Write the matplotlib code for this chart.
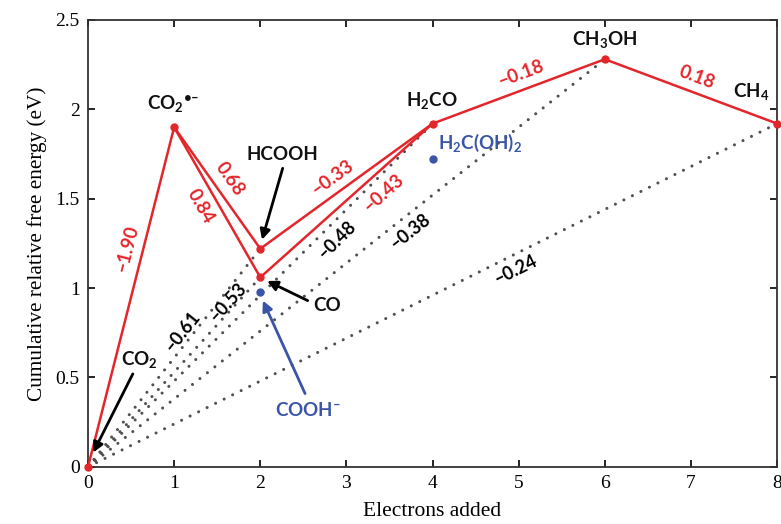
import matplotlib
matplotlib.use("Agg")
import matplotlib.pyplot as plt
import numpy as np

plt.rcParams['mathtext.fontset'] = 'custom'
plt.rcParams['mathtext.rm'] = 'Lato:bold'
plt.rcParams['mathtext.bf'] = 'Lato:bold'
plt.rcParams['mathtext.it'] = 'Lato:bold'

# Интермедиаты восстановления CO2
species = [r'$\mathrm{CO_2}$', r'$\mathrm{CO_2{}^{•–}}$', 'HCOOH', 'CO',
           r'$\mathrm{H_2CO}$', r'$\mathrm{CH_3OH}$', r'$\mathrm{CH_4}$']
electrons = [0, 1, 2, 2, 4, 6, 8]
energy = [0.0, 1.90, 1.22, 1.06, 1.92, 2.28, 1.92]

# Побочные частицы (синие)
side_species = [r'$\mathrm{COOH^{–}}$', r'$\mathrm{H_2C(OH)_2}$']
side_electrons = [2, 4]
side_energy = [0.98, 1.72]

# Ступени (красные линии) и их потенциалы
steps = [(0, 1), (1, 2), (1, 3), (2, 4), (3, 4), (4, 5), (5, 6)]
step_labels = ['–1.90', '0.68', '0.84', '–0.33', '–0.43', '–0.18', '0.18']

# Суммарные потенциалы (пунктир от начала координат)
overall_to = [2, 3, 4, 5, 6]
overall_labels = ['–0.61', '–0.53', '–0.48', '–0.38', '–0.24']

red = '#e3262b'
blue = '#3a55a8'

fig = plt.figure(figsize=(7.81, 5.24), dpi=100)
ax = fig.add_axes([0.1127, 0.109, 0.8823, 0.853])
ax.set_xlim(0, 8)
ax.set_ylim(0, 2.5)


def angle(x0, y0, x1, y1):
    a = np.degrees(np.arctan2(y1 - y0, x1 - x0))
    return ax.transData.transform_angles(np.array([a]), np.array([[x0, y0]]))[0]


# пунктир
for i in overall_to:
    ax.plot([electrons[0], electrons[i]], [energy[0], energy[i]],
            color='#505050', lw=2.2, ls=(0, (0.01, 3.1)), dash_capstyle='round', zorder=2)

# красные ступени
for a, b in steps:
    ax.plot([electrons[a], electrons[b]], [energy[a], energy[b]], color=red, lw=1.8, zorder=3)
ax.plot(electrons, energy, 'o', color=red, ms=5, zorder=4, clip_on=False)
ax.plot(side_electrons, side_energy, 'o', color=blue, ms=5, zorder=4)

# подписи ступеней
step_pos = [(0.45, 1.22), (1.65, 1.61), (1.30, 1.46), (2.84, 1.62),
            (3.43, 1.53), (5.03, 2.20), (7.07, 2.18)]
for (a, b), lab, (tx, ty) in zip(steps, step_labels, step_pos):
    rot = angle(electrons[a], energy[a], electrons[b], energy[b])
    ax.text(tx, ty, lab, color=red, fontsize=13.5, fontweight='bold', family='Lato',
            rotation=rot, rotation_mode='anchor', ha='center', va='center')

overall_pos = [(1.09, 0.76), (1.62, 0.92), (2.89, 1.27), (3.74, 1.32), (4.96, 1.10)]
for i, lab, (tx, ty) in zip(overall_to, overall_labels, overall_pos):
    rot = angle(0, 0, electrons[i], energy[i])
    ax.text(tx, ty, lab, color='black', fontsize=13, fontweight='bold', family='Lato',
            rotation=rot, rotation_mode='anchor', ha='center', va='center')

# подписи частиц
species_pos = [(0.60, 0.60), (0.99, 2.03), (2.26, 1.75), (2.78, 0.90),
               (3.99, 2.05), (6.0, 2.39), (7.70, 2.10)]
for lab, (tx, ty) in zip(species, species_pos):
    ax.text(tx, ty, lab, color='#111111', fontsize=13.5, fontweight='bold', family='Lato',
            ha='center', va='center')
side_pos = [(2.55, 0.32), (4.55, 1.81)]
for lab, (tx, ty) in zip(side_species, side_pos):
    ax.text(tx, ty, lab, color=blue, fontsize=13.5, fontweight='bold', family='Lato',
            ha='center', va='center')

# стрелки
arrow_kw = dict(arrowstyle='-|>,head_length=0.6,head_width=0.3', lw=2, shrinkA=0, shrinkB=0)
ax.annotate('', xy=(0.06, 0.08), xytext=(0.52, 0.52), arrowprops=dict(color='black', **arrow_kw))
ax.annotate('', xy=(2.02, 1.27), xytext=(2.26, 1.67), arrowprops=dict(color='black', **arrow_kw))
ax.annotate('', xy=(2.08, 1.04), xytext=(2.55, 0.93), arrowprops=dict(color='black', **arrow_kw))
ax.annotate('', xy=(2.03, 0.93), xytext=(2.52, 0.41), arrowprops=dict(color=blue, **arrow_kw))

ax.set_xticks(range(0, 9))
ax.set_yticks([0, 0.5, 1, 1.5, 2, 2.5])
ax.set_yticklabels(['0', '0.5', '1', '1.5', '2', '2.5'])
ax.tick_params(direction='in', top=True, right=True, length=5, width=1.2,
               labelsize=14, pad=6)
for lab in ax.get_xticklabels() + ax.get_yticklabels():
    lab.set_family('Liberation Serif')
for s in ax.spines.values():
    s.set_linewidth(1.3)
    s.set_color('#333333')

ax.set_xlabel('Electrons added', family='Liberation Serif', fontsize=15.5, labelpad=7)
ax.set_ylabel('Cumulative relative free energy (eV)', family='Liberation Serif', fontsize=15.3, labelpad=6)

fig.savefig('out.png', dpi=100)
